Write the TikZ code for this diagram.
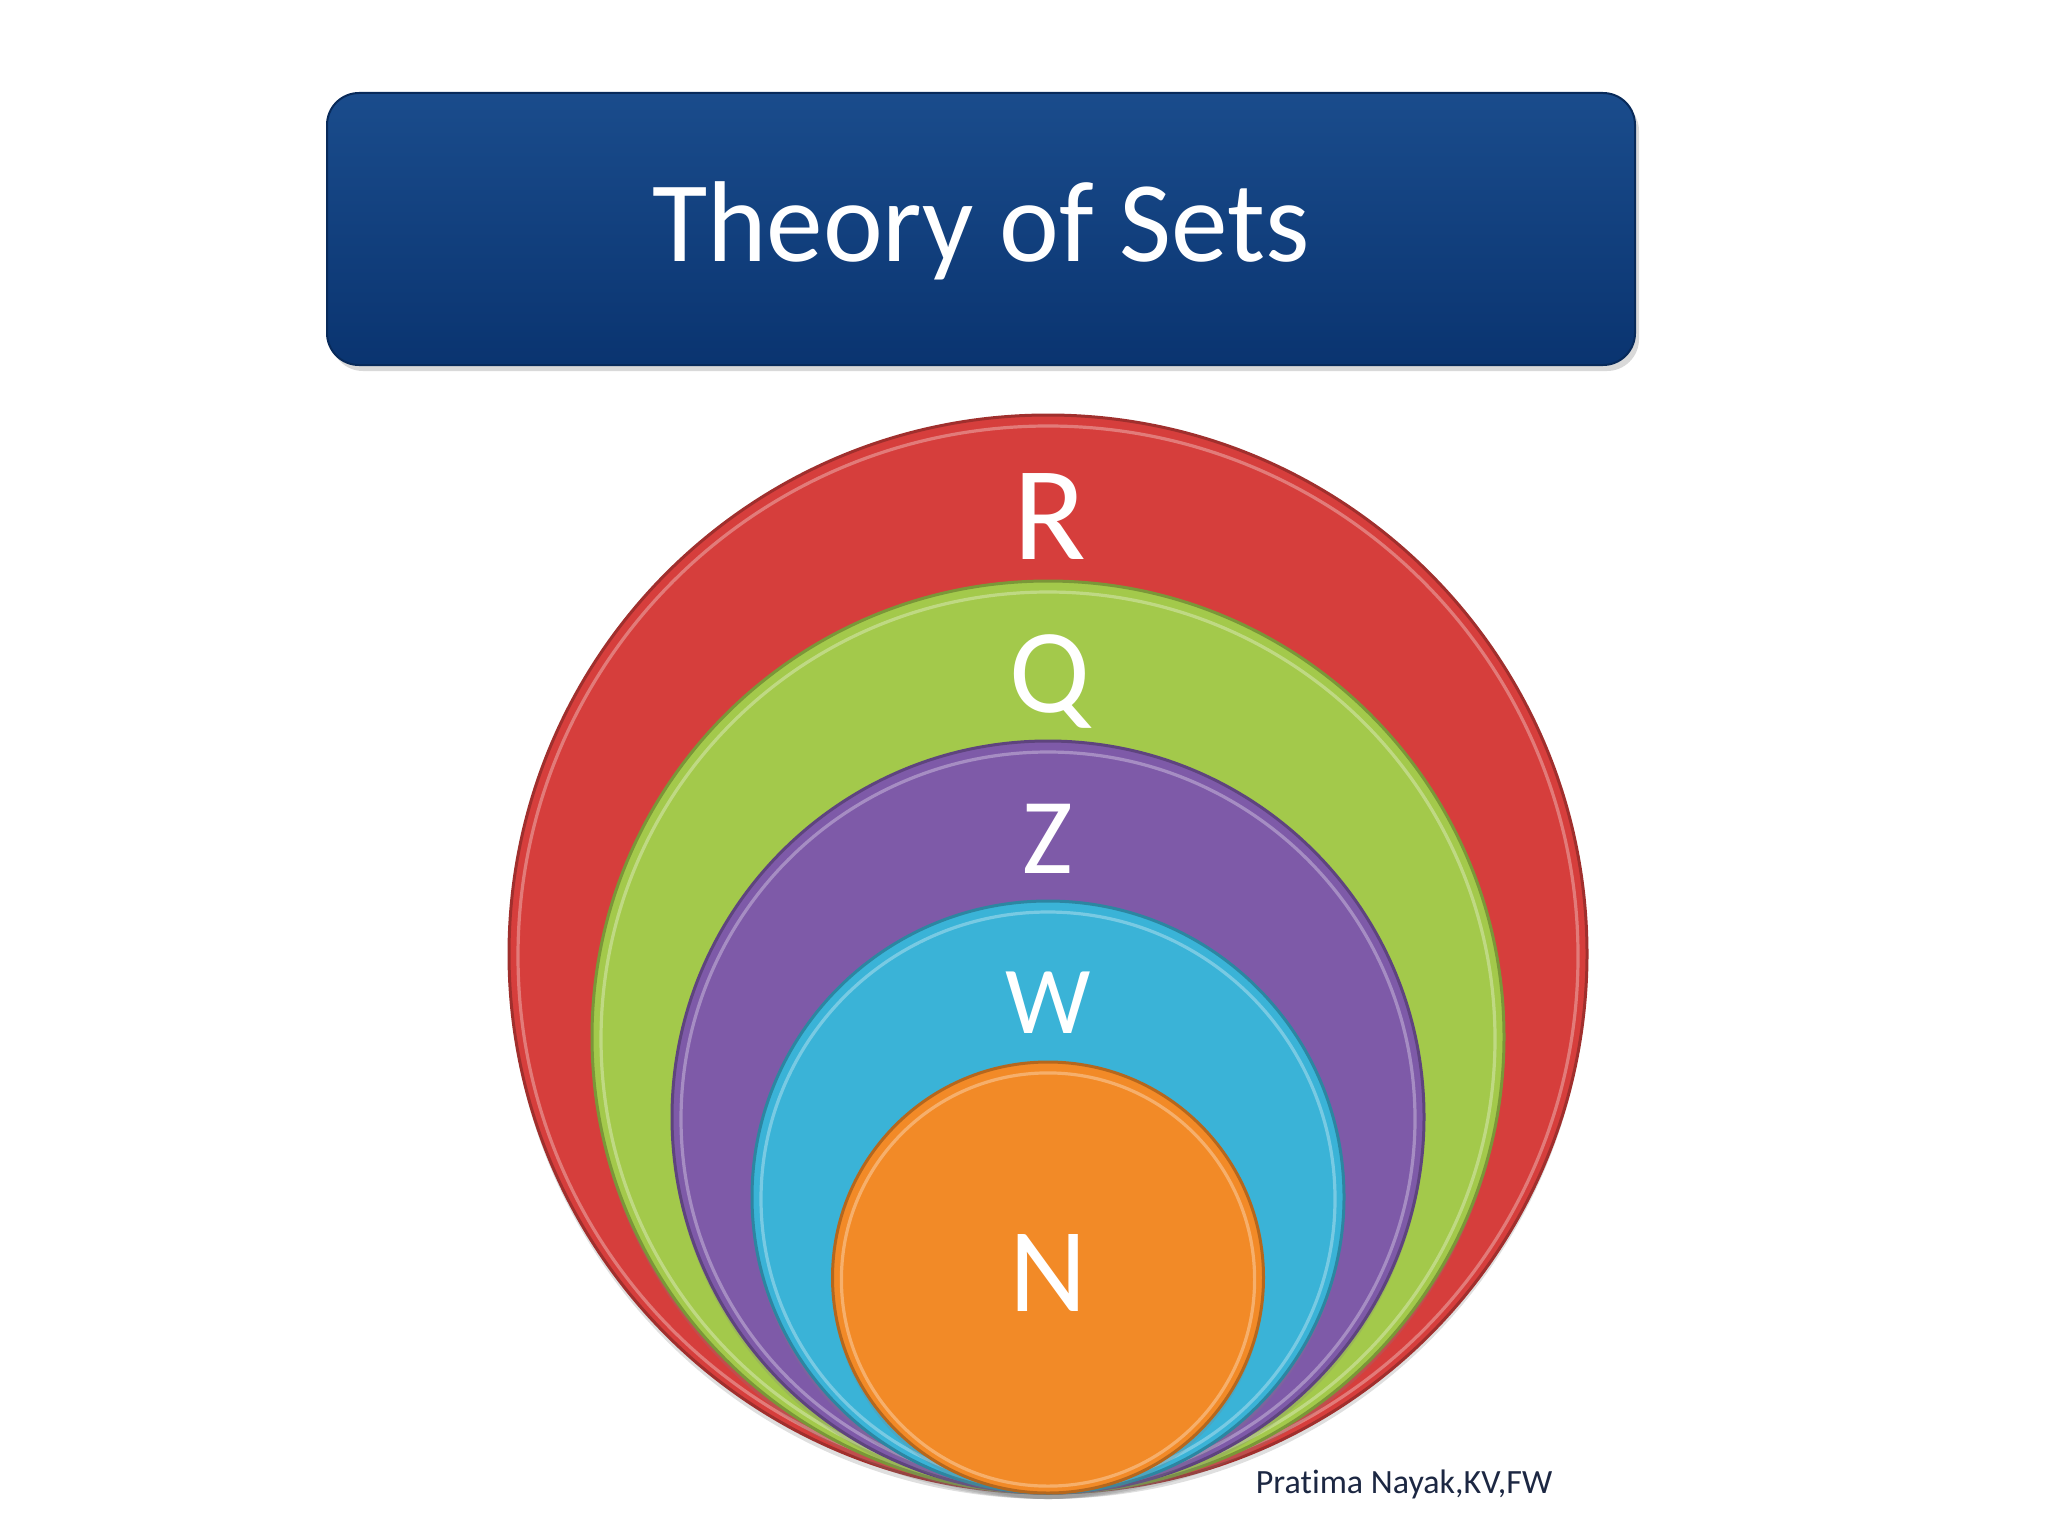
\documentclass[tikz,border=0pt]{standalone}
\usepackage{fontspec}
\setmainfont{Carlito}[Ligatures=NoCommon]
\usetikzlibrary{shadows}
\definecolor{titletop}{HTML}{1A4C8C}
\definecolor{titlebot}{HTML}{0A3470}
\definecolor{cred}{HTML}{D63E3C}
\definecolor{cgreen}{HTML}{A3C94B}
\definecolor{cpurple}{HTML}{7E5AA8}
\definecolor{cblue}{HTML}{3AB3D7}
\definecolor{corange}{HTML}{F28A27}
\definecolor{footc}{HTML}{1C2742}
\tikzset{
  setdisc/.style={circle, inner sep=0pt, draw=#1!75!black, line width=1.5pt,
    fill=#1, drop shadow={shadow xshift=0pt, shadow yshift=-3pt, opacity=0.25}},
  rim/.style={draw=#1!55!white, line width=1.6pt, opacity=0.7},
  setlabel/.style={anchor=base, text=white, inner sep=0pt},
}
\begin{document}
\begin{tikzpicture}[x=0.5pt, y=-0.5pt]
\useasboundingbox (0,0) rectangle (2048,1536);
% title box
\node[draw=titlebot!80!black, line width=1pt, rounded corners=16pt,
      top color=titletop, bottom color=titlebot,
      minimum width=654pt, minimum height=136pt, inner sep=0pt,
      drop shadow={shadow xshift=2pt, shadow yshift=-3pt, opacity=0.3}]
      (title) at (981,229) {};
\node[anchor=base, text=white, font=\fontsize{57.5}{69}\selectfont, inner sep=0pt, xscale=0.985]
      (titletext) at (981,261) {Theory of Sets};
% nested discs (diameter in pt = radius in px)
\node[setdisc=cred,    minimum size=539pt] (R) at (1048,954) {};
\draw[rim=cred] (R.center) ++(0,2) circle (265pt);
\node[setdisc=cgreen,  minimum size=456pt] (Q) at (1048,1037) {};
\draw[rim=cgreen] (Q.center) ++(0,2) circle (223.5pt);
\node[setdisc=cpurple, minimum size=376pt] (Z) at (1048,1117) {};
\draw[rim=cpurple] (Z.center) ++(0,2) circle (183.5pt);
\node[setdisc=cblue,   minimum size=296pt] (W) at (1048,1197) {};
\draw[rim=cblue] (W.center) ++(0,2) circle (143.5pt);
\node[setdisc=corange, minimum size=215.5pt] (N) at (1048,1277.5) {};
\draw[rim=corange] (N.center) ++(0,2) circle (103.3pt);
% labels
\node[setlabel, font=\fontsize{67}{80}\selectfont] (lR) at (1050,559) {R};
\node[setlabel, font=\fontsize{60}{72}\selectfont] (lQ) at (1050,712) {Q};
\node[setlabel, font=\fontsize{54}{65}\selectfont] (lZ) at (1048,873) {Z};
\node[setlabel, font=\fontsize{48}{58}\selectfont] (lW) at (1048,1033) {W};
\node[setlabel, font=\fontsize{60}{72}\selectfont] (lN) at (1048,1311) {N};
% footer
\node[anchor=base, text=footc, font=\fontsize{17}{20}\selectfont, inner sep=0pt]
      (foot) at (1404,1493) {Pratima Nayak,KV,FW};
\end{tikzpicture}
\end{document}
